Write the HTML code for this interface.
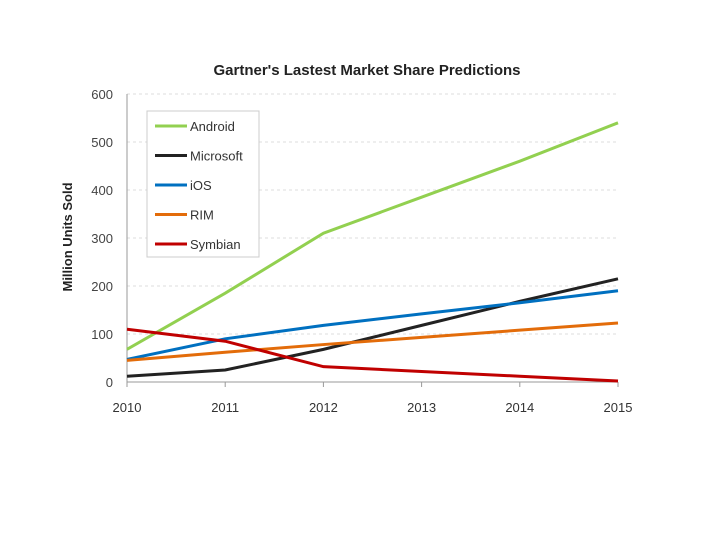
<!DOCTYPE html>
<html><head><meta charset="utf-8"><style>
body{margin:0;background:#fff;}
svg text{font-family:"Liberation Sans",sans-serif;}
</style></head><body>
<svg id="c" width="720" height="540">
<text x="367" y="75" text-anchor="middle" font-size="15" font-weight="bold" fill="#222">Gartner's Lastest Market Share Predictions</text>
<text transform="translate(72,237) rotate(-90)" text-anchor="middle" font-size="13" font-weight="bold" fill="#222">Million Units Sold</text>
<g id="grid"></g><g id="lines"></g>
<g>
<rect x="147" y="111" width="112" height="146" fill="#fff" stroke="#ccc"/>
<g id="leg"></g></g>
</svg>
<script>
const years=[2010,2011,2012,2013,2014,2015];
const yTicks=[0,100,200,300,400,500,600];
const android=[68,185,310,385,460,540];
const microsoft=[12,25,68,118,168,215];
const ios=[47,90,118,142,165,190];
const rim=[45,62,78,93,108,123];
const symbian=[110,85,32,22,12,2];
const names=["Android","Microsoft","iOS","RIM","Symbian"];
const colors=["#92d050","#222222","#0070c0","#e36c0a","#c00000"];
const series=[android,microsoft,ios,rim,symbian];
const X0=127,X1=618,Y0=382,Y1=94;
const xs=i=>X0+(X1-X0)*i/(years.length-1);
const ys=v=>Y0-(Y0-Y1)*v/600;
const NS="http://www.w3.org/2000/svg";
function mk(t,a,p){const e=document.createElementNS(NS,t);for(const k in a)e.setAttribute(k,a[k]);p.appendChild(e);return e;}
const g=document.getElementById('grid');
yTicks.forEach(v=>{
 if(v>0){const l=mk('line',{x1:X0,x2:X1,y1:ys(v),y2:ys(v),stroke:'#ddd','stroke-dasharray':'3,3'},g);
 
 }
 const t=mk('text',{x:X0-14,y:ys(v)+5,'text-anchor':'end','font-size':13,fill:'#444'},g);t.textContent=v;
 
 
});
const ax=mk('line',{x1:X0,x2:X0,y1:Y1,y2:Y0,stroke:'#999'},g);


const bx=mk('line',{x1:X0,x2:X1,y1:Y0,y2:Y0,stroke:'#999'},g);


years.forEach((y,i)=>{
 mk('line',{x1:xs(i),x2:xs(i),y1:Y0,y2:Y0+5,stroke:'#999'},g);
 const t=mk('text',{x:xs(i),y:Y0+30,'text-anchor':'middle','font-size':13,fill:'#333'},g);t.textContent=y;
 
 
});
const L=document.getElementById('lines');
series.forEach((s,k)=>{
 const p=mk('polyline',{points:s.map((v,i)=>xs(i)+','+ys(v)).join(' '),fill:'none',stroke:colors[k],'stroke-width':3},L);
 
 
});
const lg=document.getElementById('leg');
names.forEach((n,k)=>{
 const y=126+k*29.5;
 mk('line',{x1:155,x2:187,y1:y,y2:y,stroke:colors[k],'stroke-width':3},lg);
 const t=mk('text',{x:190,y:y+5,'font-size':13,fill:'#333'},lg);t.textContent=n;
 
 
});
</script>
</body></html>
